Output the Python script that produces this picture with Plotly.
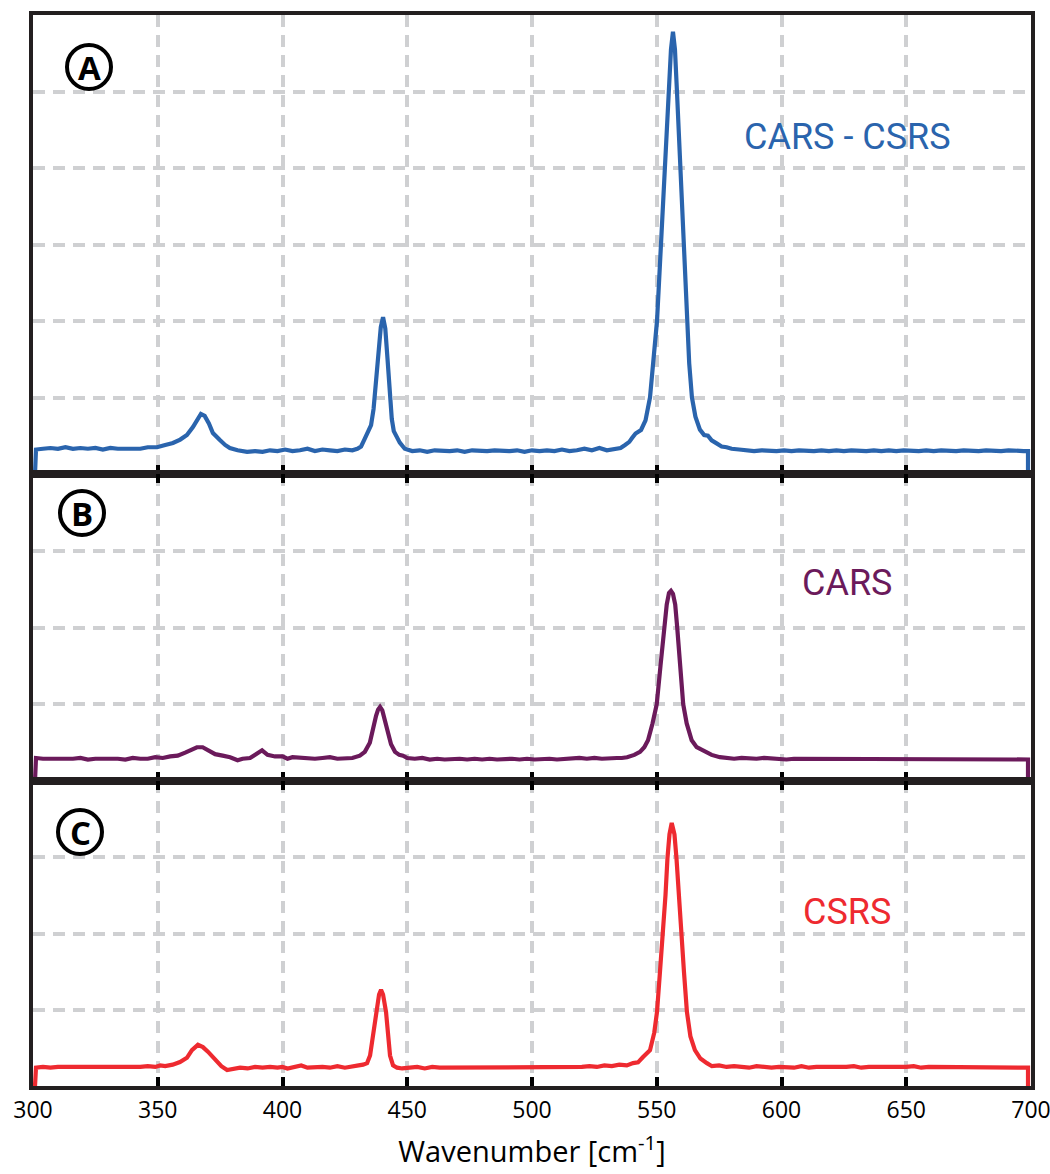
import plotly.graph_objects as go
from plotly.subplots import make_subplots

# ---------------- data ----------------
wn_A = [300.8, 301.2, 304, 307, 310, 313, 316, 319, 322, 325, 328, 331, 334, 337, 340, 343, 346, 349.7, 353, 356.1,
        359, 361.7, 364.1, 366, 367.3, 368.8, 370.5, 372.1, 373.5, 374.9, 377, 378.9, 382, 385.8, 389, 392, 395, 398,
        401, 404, 407, 410, 413, 416, 419, 422, 425, 428, 430, 431.5, 432.8, 434.3, 435.5, 436.5, 437.5, 438.5, 439.4,
        440.3, 441.2, 442.1, 443, 443.8, 444.6, 445.6, 447, 449, 452, 455, 458, 461, 464, 467, 470, 473, 476, 479, 482,
        485, 488, 491, 494, 497, 500, 503, 506, 509, 512, 515, 518, 521, 524, 527, 530, 533, 535.5, 537.3, 539, 540.1,
        541.5, 543.7, 545.5, 547.3, 548.7, 550.1, 550.9, 551.7, 552.6, 553.5, 554.2, 554.9, 555.7, 556.5, 557.3, 558.1,
        558.8, 559.5, 560.2, 560.9, 561.5, 562.1, 563, 564.1, 565.5, 567.3, 569, 570.5, 572, 574, 576, 578, 580, 583,
        586, 589, 592, 595, 598, 601, 604, 607, 610, 613, 616, 619, 622, 625, 628, 631, 634, 637, 640, 643, 646, 649,
        652, 655, 658, 661, 664, 667, 670, 673, 676, 679, 682, 685, 688, 691, 694, 697, 698.8, 698.8]
int_A = [0.0, 0.32, 0.33, 0.34, 0.33, 0.35, 0.33, 0.34, 0.33, 0.34, 0.32, 0.34, 0.33, 0.33, 0.34, 0.33, 0.35, 0.35, 0.38,
         0.405, 0.45, 0.51, 0.614, 0.72, 0.784, 0.76, 0.66, 0.536, 0.48, 0.444, 0.38, 0.34, 0.31, 0.29, 0.30, 0.29,
         0.31, 0.30, 0.32, 0.30, 0.31, 0.33, 0.30, 0.32, 0.31, 0.30, 0.32, 0.31, 0.33, 0.36, 0.45, 0.54, 0.64, 0.85,
         1.2, 1.6, 1.92, 2.05, 1.9, 1.5, 1.05, 0.72, 0.56, 0.50, 0.41, 0.33, 0.30, 0.31, 0.29, 0.31, 0.30, 0.30, 0.31,
         0.29, 0.31, 0.30, 0.30, 0.31, 0.30, 0.30, 0.31, 0.29, 0.31, 0.30, 0.31, 0.30, 0.32, 0.30, 0.31, 0.33, 0.31,
         0.34, 0.31, 0.32, 0.34, 0.38, 0.42, 0.47, 0.53, 0.575, 0.70, 1.0, 1.5, 2.0, 2.5, 3.0, 3.5, 4.0, 4.5, 5.0,
         5.55, 5.78, 5.55, 5.0, 4.5, 4.0, 3.5, 3.0, 2.5, 2.0, 1.45, 1.0, 0.75, 0.58, 0.51, 0.50, 0.44, 0.40, 0.36,
         0.35, 0.33, 0.32, 0.31, 0.30, 0.31, 0.30, 0.30, 0.31, 0.30, 0.31, 0.30, 0.30, 0.31, 0.30, 0.31, 0.30, 0.31,
         0.30, 0.30, 0.31, 0.30, 0.31, 0.30, 0.31, 0.30, 0.30, 0.31, 0.30, 0.31, 0.30, 0.30, 0.31, 0.30, 0.30, 0.31,
         0.30, 0.30, 0.31, 0.30, 0.30, 0.30, 0.0]

wn_B = [300.8, 301.2, 304, 307, 310, 313, 316, 319, 322, 325, 328, 331, 334, 337, 340, 343, 346, 349, 352, 355, 358, 361,
        363, 365.7, 368, 370, 373, 376, 379, 382, 384, 387, 389.5, 391.8, 394, 397, 400, 402, 404, 407, 410, 413, 416,
        419, 422, 425, 428, 431, 433, 435, 436.3, 437.5, 438.3, 439.1, 440, 441, 442.3, 443.5, 445.1, 446.8, 448.3, 450,
        453, 456, 459, 462, 465, 468, 471, 474, 477, 480, 483, 486, 489, 492, 495, 498, 501, 504, 507, 510, 513, 516,
        519, 522, 525, 528, 531, 534, 536, 538.1, 541, 543.3, 545, 546.5, 548.3, 550, 551.5, 552.9, 554, 554.9, 555.7,
        556.5, 557.4, 558.2, 559.3, 560.6, 562, 564, 566, 569.3, 572, 575.3, 578, 581, 584, 587, 590, 593, 596, 599,
        602, 605, 608, 611, 614, 617, 620, 623, 626, 629, 632, 635, 638, 641, 644, 647, 650, 653, 656, 659, 662, 665,
        668, 671, 674, 677, 680, 683, 686, 689, 692, 695, 698.8, 698.8]
int_B = [0.0, 0.30, 0.29, 0.29, 0.28, 0.29, 0.29, 0.30, 0.28, 0.29, 0.29, 0.30, 0.29, 0.28, 0.30, 0.29, 0.29, 0.31, 0.30,
         0.32, 0.33, 0.37, 0.40, 0.44, 0.44, 0.40, 0.35, 0.33, 0.31, 0.27, 0.29, 0.30, 0.35, 0.40, 0.34, 0.32, 0.32,
         0.29, 0.31, 0.30, 0.30, 0.29, 0.30, 0.31, 0.29, 0.30, 0.30, 0.33, 0.38, 0.50, 0.70, 0.85, 0.93, 0.965, 0.92,
         0.80, 0.65, 0.48, 0.38, 0.34, 0.33, 0.30, 0.29, 0.30, 0.28, 0.29, 0.28, 0.29, 0.29, 0.28, 0.29, 0.28, 0.29,
         0.28, 0.29, 0.29, 0.28, 0.29, 0.28, 0.29, 0.29, 0.28, 0.29, 0.29, 0.30, 0.29, 0.30, 0.29, 0.30, 0.30, 0.30,
         0.31, 0.34, 0.38, 0.44, 0.53, 0.75, 1.0, 1.5, 2.0, 2.3, 2.45, 2.477, 2.44, 2.3, 2.0, 1.5, 1.0, 0.75, 0.53,
         0.44, 0.38, 0.34, 0.31, 0.30, 0.29, 0.30, 0.29, 0.29, 0.30, 0.29, 0.29, 0.28, 0.29, 0.29, 0.28, 0.29, 0.29,
         0.28, 0.29, 0.28, 0.29, 0.28, 0.29, 0.28, 0.28, 0.29, 0.28, 0.28, 0.29, 0.28, 0.28, 0.29, 0.28, 0.28, 0.29,
         0.28, 0.28, 0.28, 0.29, 0.28, 0.28, 0.28, 0.29, 0.28, 0.0]

wn_C = [300.8, 301.2, 304, 307, 310, 313, 316, 319, 322, 325, 328, 331, 334, 337, 340, 343, 346, 349, 351, 353, 356,
        358.9, 361.7, 363.7, 366.1, 368.1, 370.1, 372, 373.7, 375.5, 377.8, 380, 383, 386, 389, 392, 395, 398, 400,
        402, 405, 407.5, 410, 413, 416, 419, 422, 425, 428, 430.5, 432.3, 433.9, 435.1, 436.3, 437.5, 438.7, 439.5,
        440.3, 441.5, 442.3, 443.1, 444.3, 445.9, 448, 451, 454, 457, 460, 463, 466, 469, 472, 475, 478, 481, 484, 487,
        490, 493, 496, 499, 502, 505, 508, 511, 514, 517, 520, 523, 526, 529, 532, 535, 538, 540.5, 542.5, 544.5,
        547.3, 549, 550.1, 551.3, 552.5, 553.5, 554.3, 555.1, 556, 557.1, 557.9, 558.8, 559.7, 560.9, 562.1, 563.5,
        565.3, 567.5, 570.1, 572.1, 575, 578, 581, 584, 587, 590, 593, 596, 599, 602, 605, 608, 611, 614, 617, 620,
        623, 626, 629, 632, 635, 638, 641, 644, 647, 650, 653, 656, 659, 662, 665, 668, 671, 674, 677, 680, 683, 686,
        689, 692, 695, 698.8, 698.8]
int_C = [0.0, 0.24, 0.25, 0.24, 0.25, 0.25, 0.24, 0.25, 0.25, 0.24, 0.25, 0.25, 0.24, 0.25, 0.24, 0.25, 0.26, 0.25,
         0.27, 0.26, 0.28, 0.315, 0.37, 0.47, 0.54, 0.51, 0.45, 0.38, 0.315, 0.26, 0.21, 0.22, 0.24, 0.23, 0.25, 0.24,
         0.25, 0.24, 0.25, 0.23, 0.25, 0.27, 0.24, 0.25, 0.25, 0.24, 0.26, 0.24, 0.25, 0.27, 0.28, 0.30, 0.40, 0.65,
         0.97, 1.2, 1.26, 1.2, 0.97, 0.65, 0.40, 0.27, 0.24, 0.23, 0.24, 0.25, 0.23, 0.25, 0.24, 0.24, 0.25, 0.24,
         0.25, 0.24, 0.25, 0.24, 0.25, 0.24, 0.25, 0.24, 0.25, 0.24, 0.25, 0.24, 0.25, 0.25, 0.24, 0.25, 0.26, 0.25,
         0.27, 0.26, 0.28, 0.27, 0.30, 0.31, 0.38, 0.47, 0.70, 0.97, 1.5, 1.98, 2.5, 2.99, 3.3, 3.45, 3.3, 2.99, 2.5,
         1.98, 1.5, 0.97, 0.65, 0.47, 0.36, 0.30, 0.26, 0.27, 0.25, 0.26, 0.25, 0.24, 0.26, 0.25, 0.24, 0.25, 0.25,
         0.24, 0.26, 0.24, 0.25, 0.25, 0.24, 0.25, 0.25, 0.26, 0.24, 0.25, 0.25, 0.24, 0.25, 0.25, 0.25, 0.26, 0.24,
         0.25, 0.25, 0.24, 0.25, 0.25, 0.24, 0.25, 0.24, 0.25, 0.25, 0.24, 0.25, 0.24, 0.24, 0.0]

panel_letters = ["A", "B", "C"]
series_names = ["CARS - CSRS", "CARS", "CSRS"]
x_ticks = [300, 350, 400, 450, 500, 550, 600, 650, 700]
x_title = "Wavenumber [cm<sup>-1</sup>]"

# ---------------- style ----------------
colors = ["#2a64ad", "#6b1a5b", "#ee2a30"]
y_tops = [6, 4, 4]
frame = "#231f20"
grid = "#cfd0d2"
W, H = 1050, 1174
ml, mr, mt, mb = 33, 19, 15, 88
heights = [459, 307, 305]

fig = make_subplots(rows=3, cols=1, shared_xaxes=True, vertical_spacing=0,
                    row_heights=heights)

for i, (wn, iv) in enumerate([(wn_A, int_A), (wn_B, int_B), (wn_C, int_C)]):
    fig.add_trace(go.Scatter(x=wn, y=iv, mode="lines",
                             line=dict(color=colors[i], width=4.2),
                             showlegend=False, hoverinfo="skip"), row=i + 1, col=1)

for i in range(3):
    fig.update_xaxes(range=[300, 700], tickvals=x_ticks, showgrid=True, gridcolor=grid,
                     gridwidth=3.5, griddash="12px,8px", showline=True, linecolor=frame,
                     linewidth=4, ticks="inside", ticklen=9, tickwidth=4, tickcolor="black",
                     mirror=("ticks" if i > 0 else True), zeroline=False, automargin=False,
                     ticklabeloverflow="allow",
                     showticklabels=(i == 2), row=i + 1, col=1)
    fig.update_yaxes(range=[0, y_tops[i]], dtick=1, showgrid=True, gridcolor=grid,
                     gridwidth=3.5, griddash="12px,8px", showline=True, linecolor=frame,
                     linewidth=4, mirror=True, ticks="", showticklabels=False,
                     zeroline=False, automargin=False, row=i + 1, col=1)

fig.update_xaxes(tickfont=dict(family="Open Sans", size=23, color="black"),
                 title=dict(text=x_title, font=dict(family="Open Sans", size=29, color="black"),
                            standoff=19), row=3, col=1)

plot_w = W - ml - mr
plot_h = H - mt - mb


def px_to_paper(px, py):
    return (px - ml) / plot_w, (H - mb - py) / plot_h


# panel letters in circles
letter_pos = [(89, 67), (82, 513), (80, 832)]
for letter, (cx, cy) in zip(panel_letters, letter_pos):
    xp, yp = px_to_paper(cx, cy)
    fig.add_shape(type="circle", xref="paper", yref="paper", xsizemode="pixel", ysizemode="pixel",
                  xanchor=xp, yanchor=yp, x0=-22, x1=22, y0=-22, y1=22,
                  line=dict(color="black", width=4), fillcolor="rgba(0,0,0,0)")
    fig.add_annotation(x=xp, y=yp, xref="paper", yref="paper", text="<b>%s</b>" % letter,
                       showarrow=False, xanchor="center", yanchor="middle",
                       font=dict(family="Open Sans", size=33, color="black"))

# series labels
label_pos = [(847, 137), (847, 583), (847, 912)]
for name, col, (cx, cy) in zip(series_names, colors, label_pos):
    xp, yp = px_to_paper(cx, cy)
    fig.add_annotation(x=xp, y=yp, xref="paper", yref="paper", text=name, showarrow=False,
                       xanchor="center", yanchor="middle",
                       font=dict(family="Roboto", size=36, color=col))

fig.update_layout(width=W, height=H, margin=dict(l=ml, r=mr, t=mt, b=mb),
                  paper_bgcolor="white", plot_bgcolor="white")

fig.write_html("out.html", config={"displayModeBar": False},
               post_script="document.body.style.margin='0px';")
